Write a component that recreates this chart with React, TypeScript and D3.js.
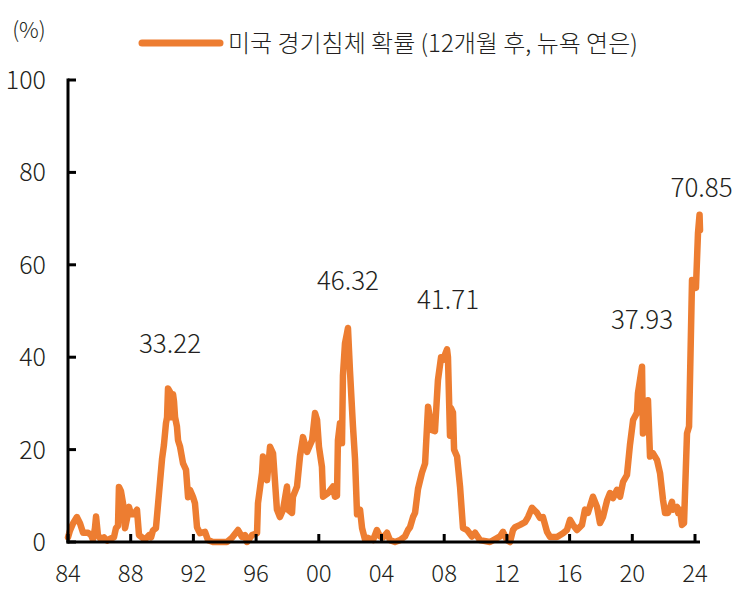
import React from "react";
import * as d3 from "d3";

// Decimal year (target month) and NY Fed recession probability, 12 months ahead (%)
const years = [
  1984.0, 1984.13, 1984.32, 1984.57, 1984.77, 1984.96, 1985.28, 1985.47, 1985.59, 1985.72,
  1985.79, 1985.91, 1986.11, 1986.3, 1986.49, 1986.74, 1986.93, 1987.06, 1987.19, 1987.25,
  1987.38, 1987.51, 1987.64, 1987.76, 1987.89, 1988.02, 1988.21, 1988.4, 1988.53, 1988.72,
  1988.91, 1989.17, 1989.3, 1989.42, 1989.61, 1989.74, 1989.87, 1990.0, 1990.12, 1990.25,
  1990.32, 1990.38, 1990.51, 1990.57, 1990.63, 1990.7, 1990.76, 1990.83, 1990.95, 1991.02,
  1991.15, 1991.34, 1991.53, 1991.66, 1991.78, 1991.97, 1992.1, 1992.23, 1992.42, 1992.74,
  1992.93, 1993.25, 1994.14, 1994.46, 1994.85, 1995.1, 1995.29, 1995.42, 1995.74, 1996.06,
  1996.12, 1996.38, 1996.44, 1996.7, 1996.89, 1997.08, 1997.33, 1997.52, 1997.72, 1997.97,
  1998.04, 1998.29, 1998.35, 1998.61, 1998.8, 1998.99, 1999.25, 1999.44, 1999.57, 1999.76,
  1999.89, 2000.01, 2000.2, 2000.27, 2000.59, 2000.91, 2001.03, 2001.16, 2001.22, 2001.35,
  2001.48, 2001.54, 2001.67, 2001.8, 2001.86, 2001.99, 2002.18, 2002.31, 2002.44, 2002.63,
  2002.76, 2002.95, 2003.14, 2003.46, 2003.71, 2003.9, 2004.1, 2004.35, 2004.54, 2004.86,
  2005.18, 2005.5, 2005.69, 2005.82, 2006.01, 2006.14, 2006.33, 2006.58, 2006.78, 2006.97,
  2007.22, 2007.41, 2007.6, 2007.8, 2007.92, 2008.18, 2008.24, 2008.37, 2008.43, 2008.56,
  2008.63, 2008.82, 2009.01, 2009.2, 2009.46, 2009.77, 2009.97, 2010.28, 2010.92, 2011.56,
  2011.75, 2012.01, 2012.2, 2012.39, 2012.52, 2012.84, 2013.16, 2013.35, 2013.6, 2013.92,
  2014.11, 2014.3, 2014.56, 2014.75, 2015.2, 2015.58, 2015.83, 2016.03, 2016.22, 2016.47,
  2016.79, 2016.98, 2017.17, 2017.49, 2017.75, 2017.94, 2018.13, 2018.39, 2018.58, 2018.77,
  2019.02, 2019.22, 2019.41, 2019.66, 2019.85, 2020.05, 2020.3, 2020.36, 2020.62, 2020.68,
  2020.81, 2020.94, 2021.0, 2021.13, 2021.32, 2021.58, 2021.77, 2021.96, 2022.09, 2022.28,
  2022.53, 2022.6, 2022.85, 2022.92, 2023.04, 2023.17, 2023.3, 2023.49, 2023.62, 2023.81,
  2024.0, 2024.06, 2024.19, 2024.29, 2024.32,
];

const probs = [
  1.0, 2.5, 4.0, 5.4, 4.0, 2.0, 2.0, 1.5, 0.5, 3.0,
  5.5, 1.5, 0.5, 1.0, 0.3, 0.8, 1.0, 3.0, 3.5, 11.9,
  11.0, 8.4, 3.0, 5.0, 7.6, 6.0, 6.0, 7.0, 1.5, 1.0,
  0.5, 1.5, 1.0, 2.5, 3.0, 8.0, 13.0, 18.0, 21.0, 25.7,
  27.0, 33.22, 32.5, 27.0, 28.0, 32.0, 30.5, 27.0, 25.0, 22.0,
  20.6, 17.0, 15.6, 9.7, 11.3, 9.8, 8.4, 3.2, 1.9, 2.2,
  0.4, 0.0, 0.0, 0.9, 2.6, 1.1, 1.5, 0.0, 1.5, 1.9,
  8.4, 15.0, 18.5, 13.4, 20.6, 19.2, 7.0, 5.4, 7.0, 12.0,
  7.0, 6.3, 9.8, 12.0, 18.5, 22.7, 19.5, 21.0, 22.0, 27.9,
  26.4, 20.6, 16.3, 9.8, 10.6, 12.0, 9.8, 10.0, 22.0, 25.7,
  21.4, 36.0, 43.0, 45.2, 46.32, 37.0, 25.0, 18.0, 6.0, 7.0,
  3.0, 0.5, 0.9, 0.4, 2.6, 1.2, 1.0, 2.0, 0.4, 0.0,
  0.4, 1.2, 2.6, 3.2, 5.4, 6.3, 11.5, 15.0, 17.0, 29.3,
  24.2, 24.0, 35.0, 40.0, 39.4, 41.71, 40.0, 23.0, 29.0, 28.0,
  20.0, 18.5, 12.0, 3.0, 2.6, 1.2, 2.0, 0.4, 0.0, 1.2,
  2.2, 0.4, 0.0, 2.6, 3.2, 3.7, 4.3, 5.4, 7.4, 6.3,
  5.2, 5.4, 2.2, 1.1, 1.1, 1.9, 2.6, 4.8, 3.7, 2.6,
  3.7, 7.0, 6.3, 9.8, 7.6, 4.1, 5.4, 9.0, 10.6, 9.5,
  11.3, 9.8, 13.0, 14.5, 21.0, 26.4, 28.0, 32.2, 37.93, 23.5,
  29.3, 28.0, 30.7, 18.5, 19.2, 17.7, 14.9, 9.1, 6.3, 6.3,
  8.7, 7.0, 7.6, 6.3, 7.0, 3.7, 4.1, 23.5, 25.0, 56.7,
  56.0, 55.0, 66.8, 70.85, 67.5,
];

const xTickYears = [1984, 1988, 1992, 1996, 2000, 2004, 2008, 2012, 2016, 2020, 2024];
const xTickLabels = ["84", "88", "92", "96", "00", "04", "08", "12", "16", "20", "24"];
const yTickValues = [0, 20, 40, 60, 80, 100];

const peakYears = [1990.38, 2001.86, 2008.18, 2020.62, 2024.29];
const peakValues = [33.22, 46.32, 41.71, 37.93, 70.85];
const peakLabels = ["33.22", "46.32", "41.71", "37.93", "70.85"];

const seriesName = "미국 경기침체 확률 (12개월 후, 뉴욕 연은)";
const unitLabel = "(%)";

// label placement offsets (style only)
const labelDx = [2, 0, 1, 0, 2];
const labelDy = [-36, -38, -40, -38, -18];

const ORANGE = "#ED7D31";
const TEXT = "#231f20";
const FONT = "'Noto Sans CJK KR', 'Noto Sans', sans-serif";

export default function App() {
  const W = 755;
  const H = 589;
  const x = d3.scaleLinear().domain([1984, 2024]).range([68, 695]);
  const y = d3.scaleLinear().domain([0, 100]).range([542, 80]);

  const pts: [number, number][] = years.map((yr, i) => [yr, probs[i]]);
  const line = d3
    .line<[number, number]>()
    .x((d) => x(d[0]))
    .y((d) => y(d[1]))
    .curve(d3.curveLinear);

  const x0 = x(1984);
  const y0 = y(0);

  return (
    <svg
      width={W}
      height={H}
      viewBox={`0 0 ${W} ${H}`}
      style={{ position: "absolute", left: 0, top: 0, background: "#fff" }}
      fontFamily={FONT}
    >
      {/* unit */}
      <text x={29} y={38} textAnchor="middle" fontSize={22} fill={TEXT} fontWeight={300}>
        {unitLabel}
      </text>
      {/* legend */}
      <line x1={142} x2={220} y1={43} y2={43} stroke={ORANGE} strokeWidth={7} strokeLinecap="round" />
      <text x={228} y={51.5} fontSize={24} fill={TEXT} fontWeight={300}>
        {seriesName}
      </text>

      {/* line */}
      <path
        d={line(pts) || ""}
        fill="none"
        stroke={ORANGE}
        strokeWidth={6.5}
        strokeLinejoin="round"
        strokeLinecap="round"
      />

      {/* y axis */}
      <line x1={x0} x2={x0} y1={y(100) - 1.5} y2={y0 + 1.5} stroke="#000" strokeWidth={3} />
      {yTickValues.map((v) => (
        <g key={"y" + v}>
          <line x1={x0} x2={x0 + 8} y1={y(v)} y2={y(v)} stroke="#000" strokeWidth={3} />
          <text x={46} y={y(v) + 9} textAnchor="end" fontSize={25} fill={TEXT} fontWeight={300}>
            {v}
          </text>
        </g>
      ))}

      {/* x axis */}
      <line x1={x0 - 1.5} x2={700} y1={y0} y2={y0} stroke="#000" strokeWidth={3} />
      {xTickYears.map((yr, i) => (
        <g key={"x" + yr}>
          <line x1={x(yr)} x2={x(yr)} y1={y0} y2={y0 - 8} stroke="#000" strokeWidth={3} />
          <text x={x(yr)} y={582} textAnchor="middle" fontSize={24} fill={TEXT} fontWeight={300}>
            {xTickLabels[i]}
          </text>
        </g>
      ))}

      {/* peak labels */}
      {peakYears.map((yr, i) => (
        <text
          key={"p" + i}
          x={x(yr) + labelDx[i]}
          y={y(peakValues[i]) + labelDy[i]}
          textAnchor="middle"
          fontSize={26}
          fill={TEXT}
          fontWeight={300}
        >
          {peakLabels[i]}
        </text>
      ))}
    </svg>
  );
}
